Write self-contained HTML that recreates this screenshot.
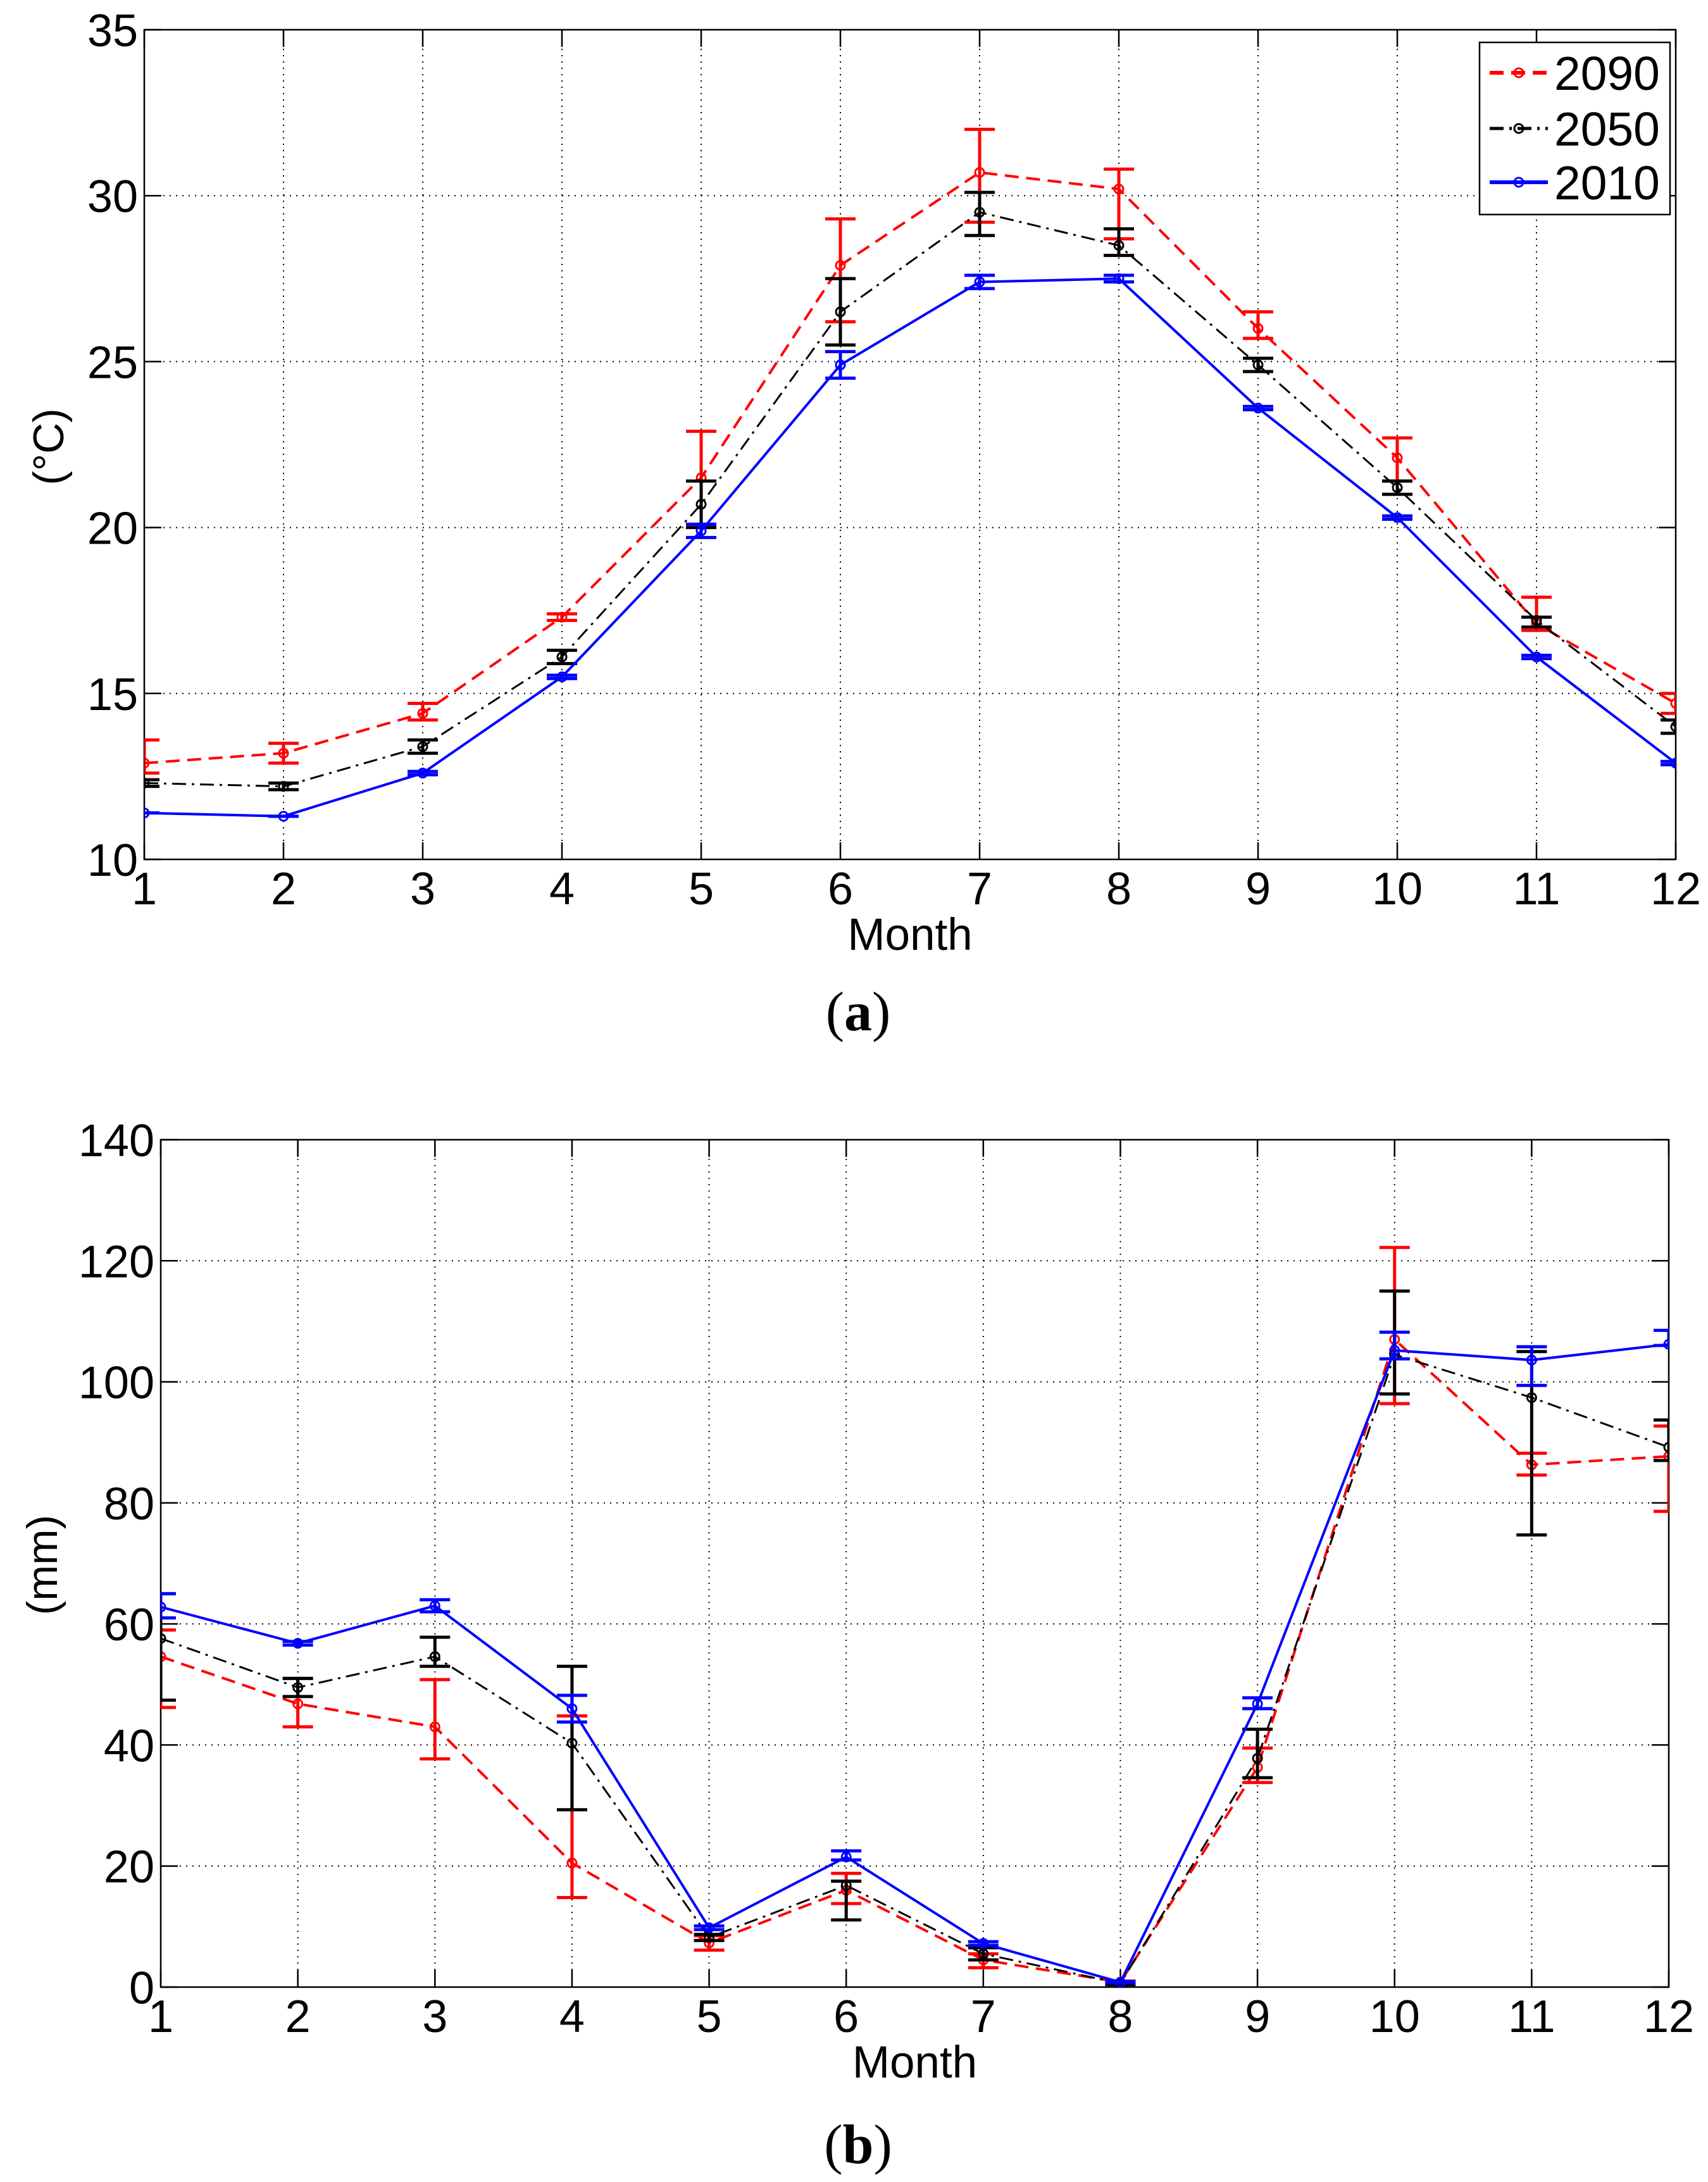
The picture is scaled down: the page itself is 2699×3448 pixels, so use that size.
<!DOCTYPE html>
<html><head><meta charset="utf-8">
<style>
html,body{margin:0;padding:0;background:#fff;}
svg{display:block;}
text{font-family:"Liberation Sans",sans-serif;}
</style></head>
<body>
<svg id="fig" width="2699" height="3448" viewBox="0 0 2699 3448" xmlns="http://www.w3.org/2000/svg">
<rect width="2699" height="3448" fill="#fff"/>
</svg>
<script>
// ---------- Data ----------
const months = [1,2,3,4,5,6,7,8,9,10,11,12];
const seriesNames = ["2090","2050","2010"];
const tempTicks = [10,15,20,25,30,35];
const precipTicks = [0,20,40,60,80,100,120,140];

const temp2090 = [12.9,13.2,14.4,17.3,21.5,27.9,30.7,30.2,26.0,22.1,17.1,14.7];
const temp2090Hi = [13.6,13.5,14.7,17.4,22.9,29.3,32.0,30.8,26.5,22.7,17.9,15.0];
const temp2090Lo = [12.6,12.9,14.2,17.2,20.1,26.2,29.2,28.7,25.7,21.4,16.9,14.4];
const temp2050 = [12.3,12.2,13.4,16.1,20.7,26.5,29.5,28.5,24.9,21.2,17.2,14.0];
const temp2050Hi = [12.4,12.3,13.6,16.3,21.4,27.5,30.1,29.0,25.1,21.4,17.3,14.2];
const temp2050Lo = [12.2,12.1,13.2,15.9,20.0,25.5,28.8,28.2,24.7,21.0,17.0,13.8];
const temp2010 = [11.4,11.3,12.6,15.5,19.9,24.9,27.4,27.5,23.6,20.3,16.1,12.9];
const temp2010Hi = [11.4,11.3,12.65,15.55,20.1,25.3,27.6,27.6,23.65,20.35,16.15,12.95];
const temp2010Lo = [11.4,11.3,12.55,15.45,19.7,24.5,27.2,27.4,23.55,20.25,16.05,12.85];

const prec2090 = [54.6,46.8,43.0,20.5,7.3,16.0,4.5,0.8,36.3,107.0,86.3,87.7];
const prec2090Hi = [59.0,51.0,50.8,44.8,8.5,18.8,5.5,1.0,39.5,122.2,88.2,92.7];
const prec2090Lo = [46.2,43.0,37.7,14.8,6.1,13.8,3.2,0.5,33.8,96.4,84.6,78.6];
const prec2050 = [57.6,49.5,54.6,40.3,8.2,16.8,5.5,0.6,37.8,104.5,97.4,89.2];
const prec2050Hi = [65.0,51.0,57.8,53.0,8.7,17.5,6.5,0.8,42.6,115.0,105.0,93.7];
const prec2050Lo = [47.4,48.0,53.0,29.3,7.7,11.1,4.5,0.4,34.6,98.0,74.7,87.0];
const prec2010 = [62.8,56.8,63.0,46.0,9.8,21.5,7.2,0.8,46.8,105.2,103.6,106.2];
const prec2010Hi = [65.0,57.1,64.0,48.2,10.1,22.5,7.5,0.9,47.8,108.2,105.8,108.5];
const prec2010Lo = [61.0,56.5,62.0,43.8,9.5,21.0,6.9,0.7,46.0,103.8,99.4,106.0];

// ---------- Rendering ----------
const NS = "http://www.w3.org/2000/svg";
const svg = document.getElementById("fig");
function mk(tag, attrs, parent){
  const e = document.createElementNS(NS, tag);
  for (const k in attrs) e.setAttribute(k, attrs[k]);
  (parent||svg).appendChild(e);
  return e;
}
const styles = {
  "2090": {color:"#ff0000", dash:"22,12", width:4},
  "2050": {color:"#000000", dash:"22,9,4,9", width:3},
  "2010": {color:"#0000ff", dash:"", width:4}
};

function drawPanel(cfg){
  const g = mk("g", {});
  
  
  const {L,R,T,B,ymin,ymax} = cfg;
  const xs = m => L + (m-1)*(R-L)/11;
  const ys = v => B - (v-ymin)*(B-T)/(ymax-ymin);
  const clipId = cfg.name + "-clip";
  const cp = mk("clipPath", {id:clipId}, g);
  mk("rect", {x:L, y:T, width:R-L, height:B-T}, cp);

  // grid
  const grid = mk("g", {stroke:"#000", "stroke-width":2, "stroke-dasharray":"2,8"}, g);
  
  
  months.forEach(m => { if (m>1 && m<12) mk("line", {x1:xs(m), x2:xs(m), y1:T, y2:B}, grid); });
  cfg.ticks.forEach(t => { if (t>ymin && t<ymax) mk("line", {x1:L, x2:R, y1:ys(t), y2:ys(t)}, grid); });

  // axes box
  const box = mk("rect", {x:L, y:T, width:R-L, height:B-T, fill:"none", stroke:"#000", "stroke-width":2.5}, g);
  
  
  // ticks
  const tk = mk("g", {stroke:"#000", "stroke-width":2.5}, g);
  months.forEach(m => {
    mk("line", {x1:xs(m), x2:xs(m), y1:B, y2:B-27}, tk);
    mk("line", {x1:xs(m), x2:xs(m), y1:T, y2:T+27}, tk);
  });
  cfg.ticks.forEach(t => {
    mk("line", {x1:L, x2:L+27, y1:ys(t), y2:ys(t)}, tk);
    mk("line", {x1:R, x2:R-27, y1:ys(t), y2:ys(t)}, tk);
  });
  // tick labels
  cfg.ticks.forEach(t => {
    const tx = mk("text", {x:L-10, y:ys(t)+26, "font-size":72, "text-anchor":"end"}, g);
    tx.textContent = t;
    
    
  });
  months.forEach(m => {
    const tx = mk("text", {x:xs(m), y:B+71, "font-size":72, "text-anchor":"middle"}, g);
    tx.textContent = m;
    
    
  });
  const xl = mk("text", {x:(L+R)/2, y:B+143, "font-size":71, "text-anchor":"middle"}, g);
  xl.textContent = "Month";
  
  
  const yl = mk("text", {x:cfg.ylx, y:cfg.yly, "font-size":68, "text-anchor":"middle", transform:`rotate(-90 ${cfg.ylx} ${cfg.yly})`}, g);
  yl.textContent = cfg.ylabel;
  
  
  const cap = mk("text", {x:1356, y:cfg.capY, "font-size":88, "text-anchor":"middle", style:"font-family:'Liberation Serif',serif"}, g);
  cap.innerHTML = '(<tspan font-weight="bold">' + cfg.caption + '</tspan>)';
  
  

  // series
  const data = mk("g", {"clip-path":`url(#${clipId})`}, g);
  cfg.series.forEach(s => {
    const st = styles[s.name];
    const sg = mk("g", {}, data);
    
    
    // error bars
    months.forEach((m,i) => {
      const x = xs(m);
      const eb = mk("g", {stroke:st.color, "stroke-width":5, fill:"none"}, sg);
      
      
      mk("line", {x1:x, x2:x, y1:ys(s.hi[i]), y2:ys(s.lo[i])}, eb);
      mk("line", {x1:x-24, x2:x+24, y1:ys(s.hi[i]), y2:ys(s.hi[i])}, eb);
      mk("line", {x1:x-24, x2:x+24, y1:ys(s.lo[i]), y2:ys(s.lo[i])}, eb);
    });
    const pts = months.map((m,i) => xs(m)+","+ys(s.vals[i])).join(" ");
    const pl = mk("polyline", {points:pts, fill:"none", stroke:st.color, "stroke-width":st.width, "stroke-dasharray":st.dash, "stroke-linejoin":"round"}, sg);
    
    
    months.forEach((m,i) => {
      const c = mk("circle", {cx:xs(m), cy:ys(s.vals[i]), r:7, fill:"none", stroke:st.color, "stroke-width":3}, sg);
      
      
    });
  });
}

drawPanel({
  name:"temperature-panel", L:228, R:2648, T:47, B:1358, ymin:10, ymax:35,
  ticks:tempTicks, ylabel:"(°C)", ylx:100, yly:706, caption:"a", capY:1628,
  series:[
    {name:"2090", vals:temp2090, hi:temp2090Hi, lo:temp2090Lo},
    {name:"2050", vals:temp2050, hi:temp2050Hi, lo:temp2050Lo},
    {name:"2010", vals:temp2010, hi:temp2010Hi, lo:temp2010Lo}
  ]
});
drawPanel({
  name:"precipitation-panel", L:254, R:2637, T:1801, B:3140, ymin:0, ymax:140,
  ticks:precipTicks, ylabel:"(mm)", ylx:90, yly:2473, caption:"b", capY:3418,
  series:[
    {name:"2090", vals:prec2090, hi:prec2090Hi, lo:prec2090Lo},
    {name:"2050", vals:prec2050, hi:prec2050Hi, lo:prec2050Lo},
    {name:"2010", vals:prec2010, hi:prec2010Hi, lo:prec2010Lo}
  ]
});

// legend (panel a)
const lg = mk("g", {});


mk("rect", {x:2338, y:67, width:301, height:272, fill:"#fff", stroke:"#000", "stroke-width":2.5}, lg);
const legendY = [115, 203, 288];
seriesNames.forEach((n,i) => {
  const st = styles[n];
  const e = mk("g", {}, lg);
  
  
  mk("line", {x1:2354, x2:2446, y1:legendY[i], y2:legendY[i], stroke:st.color, "stroke-width":st.width+2, "stroke-dasharray":st.dash}, e);
  mk("circle", {cx:2400, cy:legendY[i], r:7, fill:"none", stroke:st.color, "stroke-width":3}, e);
  const t = mk("text", {x:2456, y:legendY[i]+27, "font-size":75}, e);
  t.textContent = n;
});
</script>
</body></html>
